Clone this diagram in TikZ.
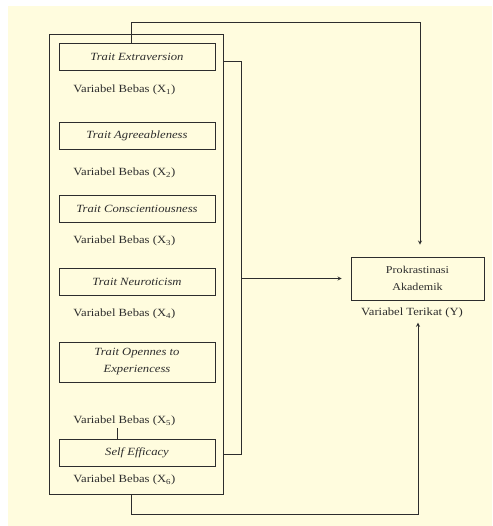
\documentclass[tikz,border=0pt]{standalone}
\usepackage{fontspec}
\setmainfont{Liberation Serif}[FakeStretch=1.15]
\usetikzlibrary{positioning}
\definecolor{paper}{RGB}{255,252,222}
\definecolor{ink}{RGB}{45,45,45}

\begin{document}
\begin{tikzpicture}[x=1pt, y=-1pt, >=stealth, line width=0.8pt, draw=ink, text=ink,
    trait/.style={draw, align=center, minimum width=156pt, minimum height=27pt, font=\fontsize{11}{17}\selectfont\itshape},
    varlabel/.style={anchor=west, inner sep=0pt, font=\fontsize{11}{13}\selectfont}]
    % Page
    \useasboundingbox (0,0) rectangle (492,526);
    \fill[paper] (8,6) rectangle (492,526);

    % Nodes
    \node[draw, minimum width=174pt, minimum height=460pt] (frame) at (136,264) {};
    \node[trait] (ext) at (137,56.5) {Trait Extraversion};
    \node[varlabel] (x1) at (73,90) {Variabel Bebas (X\textsubscript{1})};
    \node[trait] (agr) at (137,135.5) {Trait Agreeableness};
    \node[varlabel] (x2) at (73,173) {Variabel Bebas (X\textsubscript{2})};
    \node[trait] (con) at (137,208.5) {Trait Conscientiousness};
    \node[varlabel] (x3) at (73,241) {Variabel Bebas (X\textsubscript{3})};
    \node[trait] (neu) at (137,282) {Trait Neuroticism};
    \node[varlabel] (x4) at (73,314) {Variabel Bebas (X\textsubscript{4})};
    \node[trait, minimum height=40pt] (ope) at (137,362) {Trait Opennes to\\Experiencess};
    \node[varlabel] (x5) at (73,421) {Variabel Bebas (X\textsubscript{5})};
    \node[trait] (self) at (137,452.5) {Self Efficacy};
    \node[varlabel] (x6) at (73,480) {Variabel Bebas (X\textsubscript{6})};

    \node[draw, align=center, minimum width=133pt, minimum height=43pt, font=\fontsize{10.5}{17}\selectfont] (pro) at (417.5,278.5) {Prokrastinasi\\Akademik};
    \node[font=\fontsize{11}{13}\selectfont] (ylabel) at (412,313) {Variabel Terikat (Y)};

    \coordinate (topbend) at (420,22);
    \coordinate (botbend) at (418,514);
    \coordinate (bustop) at (241,61);
    \coordinate (busbot) at (241,454);

    % Connections
    \draw[->, shorten >=12pt] ([xshift=-6pt]ext.north) |- (topbend) -- (topbend |- pro.north);
    \draw (frame.east |- bustop) -- (bustop) -- (busbot) -- (frame.east |- busbot);
    \draw[->, shorten >=9pt] (bustop |- pro.west) -- (pro.west);
    \draw[->, shorten >=1pt] ([xshift=-5pt]frame.south) |- (botbend) -- (botbend |- ylabel.south);
    \draw ([xshift=-20pt]self.north) -- ++(0,-11);
\end{tikzpicture}
\end{document}
